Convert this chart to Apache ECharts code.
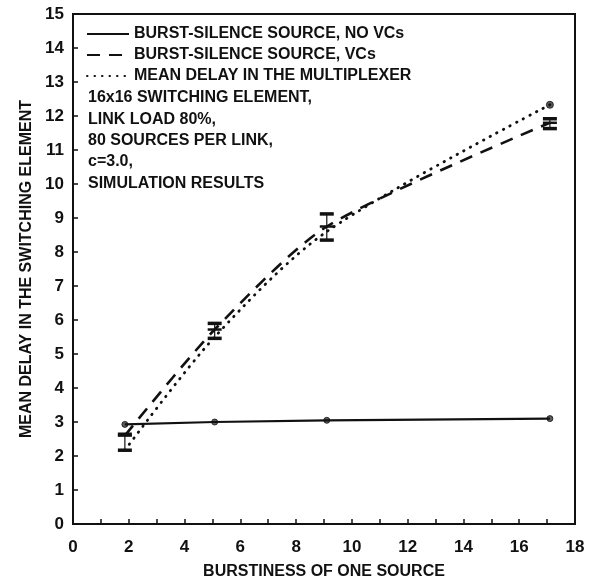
<!DOCTYPE html>
<html>
<head>
<meta charset="utf-8">
<script src="https://cdn.jsdelivr.net/npm/echarts@6/dist/echarts.min.js"></script>
<style>
  html, body { margin: 0; padding: 0; background: #fff; }
  #chart { width: 597px; height: 584px; }
</style>
</head>
<body>
<div id="chart"></div>
<script>
// burstiness values where the simulations were run
const burstiness = [1.86, 5.08, 9.1, 17.1];
// mean delay, burst-silence source without VCs
const noVcs = [2.93, 3.0, 3.05, 3.1];
// mean delay, burst-silence source with VCs (plus confidence limits)
const withVcs = [2.6, 5.72, 8.75, 11.8];
const vcLow = [2.17, 5.46, 8.35, 11.63];
const vcHigh = [2.64, 5.9, 9.12, 11.92];
// mean delay in the multiplexer
const muxDelay = [2.17, 5.5, 8.6, 12.33];

const infoLines = [
    '16x16 SWITCHING ELEMENT,',
    'LINK LOAD 80%,',
    '80 SOURCES PER LINK,',
    'c=3.0,',
    'SIMULATION RESULTS'
];

const font = 'Liberation Sans';
const pairs = (ys) => burstiness.map((x, i) => [x, ys[i]]);

var myChart = echarts.init(document.getElementById('chart'));

var option = {
    animation: false,
    backgroundColor: '#fff',
    grid: {
        left: 73, right: 22, top: 14, bottom: 60,
        outerBoundsMode: 'none',
        show: true, borderColor: '#111', borderWidth: 2
    },
    legend: {
        orient: 'vertical',
        left: 81, top: 21,
        itemWidth: 42, itemHeight: 14, itemGap: 5,
        itemStyle: { opacity: 0 },
        data: ['BURST-SILENCE SOURCE, NO VCs', 'BURST-SILENCE SOURCE, VCs', 'MEAN DELAY IN THE MULTIPLEXER'],
        textStyle: { fontFamily: font, fontWeight: 'bold', fontSize: 16, color: '#111' }
    },
    graphic: infoLines.map((t, i) => ({
        type: 'text',
        left: 88,
        top: 90 + i * 21.3,
        style: { text: t, fill: '#111', font: 'bold 16px "Liberation Sans"' }
    })),
    xAxis: {
        type: 'value', min: 0, max: 18, interval: 2,
        name: 'BURSTINESS OF ONE SOURCE',
        nameLocation: 'middle', nameGap: 40,
        nameTextStyle: { fontFamily: font, fontWeight: 'bold', fontSize: 16, color: '#111' },
        axisLine: { lineStyle: { color: '#111', width: 2 } },
        axisTick: { inside: true, length: 5, lineStyle: { color: '#111', width: 1.5 } },
        minorTick: { show: true, splitNumber: 2, length: 5, lineStyle: { color: '#111', width: 1.5 } },
        splitLine: { show: false },
        axisLabel: { fontFamily: font, fontWeight: 'bold', fontSize: 17, color: '#111', margin: 15 }
    },
    yAxis: {
        type: 'value', min: 0, max: 15, interval: 1,
        name: 'MEAN DELAY IN THE SWITCHING ELEMENT',
        nameLocation: 'middle', nameGap: 34,
        nameTextStyle: { fontFamily: font, fontWeight: 'bold', fontSize: 16, color: '#111' },
        axisLine: { show: true, lineStyle: { color: '#111', width: 2 } },
        axisTick: { show: true, inside: true, length: 5, lineStyle: { color: '#111', width: 1.5 } },
        splitLine: { show: false },
        axisLabel: { fontFamily: font, fontWeight: 'bold', fontSize: 17, color: '#111', margin: 9 }
    },
    series: [
        {
            name: 'BURST-SILENCE SOURCE, NO VCs',
            type: 'line',
            data: pairs(noVcs),
            symbol: 'none',
            lineStyle: { color: '#111', width: 2.2 },
            itemStyle: { color: '#111' }
        },
        {
            name: 'noVcsPoints',
            type: 'scatter',
            data: pairs(noVcs),
            symbol: 'circle', symbolSize: 6,
            itemStyle: { color: '#333', borderColor: '#111', borderWidth: 1 }
        },
        {
            name: 'BURST-SILENCE SOURCE, VCs',
            type: 'line',
            data: pairs(withVcs),
            smooth: 0.25,
            symbol: 'none',
            lineStyle: { color: '#111', width: 2.6, type: [13, 9] },
            itemStyle: { color: '#111' }
        },
        {
            name: 'MEAN DELAY IN THE MULTIPLEXER',
            type: 'line',
            data: pairs(muxDelay),
            smooth: 0.3,
            symbol: 'none',
            lineStyle: { color: '#111', width: 2.8, type: [0.5, 7], cap: 'round' },
            itemStyle: { color: '#111' }
        },
        {
            name: 'muxEnd',
            type: 'scatter',
            data: [[burstiness[3], muxDelay[3]]],
            symbol: 'circle', symbolSize: 7,
            itemStyle: { color: '#333', borderColor: '#111', borderWidth: 1 }
        },
        {
            name: 'errorBars',
            type: 'custom',
            data: burstiness.map((x, i) => [x, vcLow[i], withVcs[i], vcHigh[i]]),
            renderItem: function (params, api) {
                var x = api.value(0);
                var lo = api.coord([x, api.value(1)]);
                var mid = api.coord([x, api.value(2)]);
                var hi = api.coord([x, api.value(3)]);
                var w = 7;
                var cap = function (p, h) {
                    return { type: 'rect', shape: { x: p[0] - w, y: p[1] - h / 2, width: 2 * w, height: h }, style: { fill: '#111' } };
                };
                return {
                    type: 'group',
                    children: [
                        { type: 'line', shape: { x1: lo[0], y1: lo[1], x2: hi[0], y2: hi[1] }, style: { stroke: '#111', lineWidth: 1.2 } },
                        cap(lo, 3.5), cap(hi, 3.5), cap(mid, 2.5)
                    ]
                };
            },
            z: 5
        }
    ]
};

myChart.setOption(option);
</script>
</body>
</html>
